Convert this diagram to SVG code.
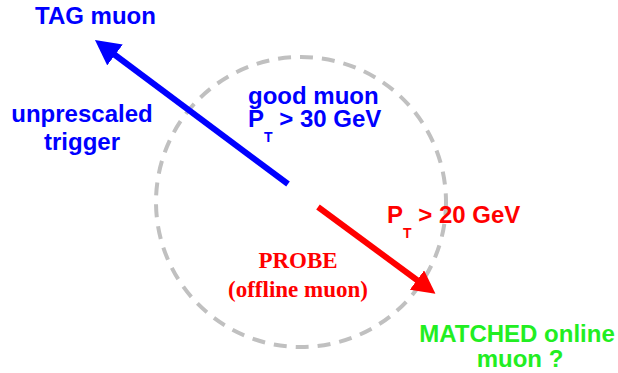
<svg xmlns="http://www.w3.org/2000/svg" width="618" height="373" viewBox="0 0 618 373">
<defs>
<style>
.sans{font-family:"Liberation Sans",Arial,sans-serif;font-weight:bold;font-size:24px}
.serif{font-family:"Liberation Serif","Times New Roman",serif;font-weight:bold;font-size:23px}
.blue{fill:#0000ff}
.red{fill:#ff0000}
.green{fill:#22ee22}
.sub{font-size:14px}
</style>
<marker id="headBlue" markerUnits="userSpaceOnUse" viewBox="0 -13 25 26" refX="5" refY="0" markerWidth="25" markerHeight="26" orient="auto">
<path d="M0,-13 L25,0 L0,13 Z" fill="#0000ff"/>
</marker>
<marker id="headRed" markerUnits="userSpaceOnUse" viewBox="0 -12 23 24" refX="5" refY="0" markerWidth="23" markerHeight="24" orient="auto">
<path d="M0,-12 L23,0 L0,12 Z" fill="#ff0000"/>
</marker>
</defs>
<rect width="618" height="373" fill="#ffffff"/>
<g id="region">
<circle cx="301" cy="202" r="145" fill="none" stroke="#c0c0c0" stroke-width="4" stroke-dasharray="13 9"/>
</g>
<g id="connectors">
<line x1="288" y1="184" x2="111" y2="52" stroke="#0000ff" stroke-width="6" marker-end="url(#headBlue)"/>
<line x1="318" y1="207" x2="421" y2="283" stroke="#ff0000" stroke-width="6" marker-end="url(#headRed)"/>
</g>
<g id="tag">
<text class="sans blue" x="35" y="24">TAG muon</text>
</g>
<g id="trigger">
<text class="sans blue" x="82" y="122" text-anchor="middle">unprescaled</text>
<text class="sans blue" x="82" y="150" text-anchor="middle">trigger</text>
</g>
<g id="good">
<text class="sans blue" x="248" y="104">good muon</text>
<text class="sans blue" x="248" y="127">P<tspan class="sub" dy="15">T</tspan><tspan dy="-15"> &gt; 30 GeV</tspan></text>
</g>
<g id="pt20">
<text class="sans red" x="387" y="223">P<tspan class="sub" dy="15">T</tspan><tspan dy="-15"> &gt; 20 GeV</tspan></text>
</g>
<g id="probe">
<text class="serif red" x="298" y="268" text-anchor="middle">PROBE</text>
<text class="serif red" x="298" y="297" text-anchor="middle">(offline muon)</text>
</g>
<g id="matched">
<text class="sans green" x="517" y="342" text-anchor="middle">MATCHED online</text>
<text class="sans green" x="520" y="367" text-anchor="middle">muon ?</text>
</g>
</svg>
